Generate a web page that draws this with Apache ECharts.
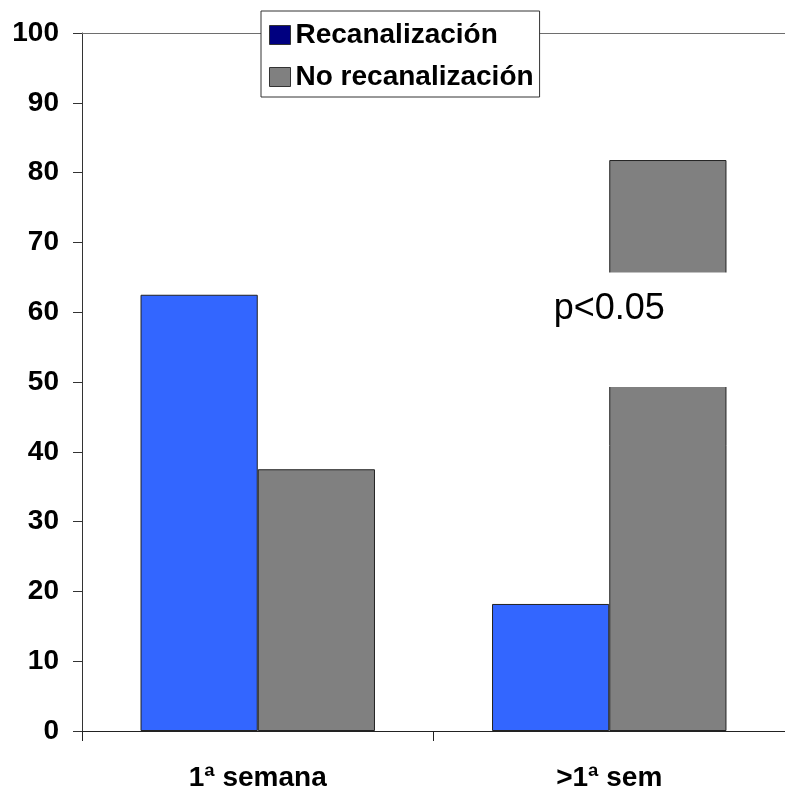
<!DOCTYPE html>
<html>
<head>
<meta charset="utf-8">
<script src="https://cdn.jsdelivr.net/npm/echarts@6/dist/echarts.min.js"></script>
<style>
  html, body { margin: 0; padding: 0; background: #ffffff; }
  #chart { width: 785px; height: 794px; }
</style>
</head>
<body>
<div id="chart"></div>
<script>
// Categories and series values (percent)
const categories = ['1ª semana', '>1ª sem'];
const recanalizacion = [62.5, 18.2];
const noRecanalizacion = [37.5, 81.8];
const seriesNames = ['Recanalización', 'No recanalización'];

// Significance note drawn over the second group, and the value band it blanks out
const noteText = 'p<0.05';
const noteCategory = '>1ª sem';
const noteBand = [49.3, 65.7];
const noteValue = 60.5;

const FONT = "'Liberation Sans', Arial, Helvetica, sans-serif";

const chart = echarts.init(document.getElementById('chart'), null, { renderer: 'canvas' });

chart.setOption({
  animation: false,
  backgroundColor: '#ffffff',
  grid: { left: 82, right: -2, top: 33, bottom: 63 },
  legend: {
    orient: 'vertical',
    left: 261, top: 11,
    padding: [9, 6, 5, 8],
    itemGap: 12,
    itemWidth: 21, itemHeight: 19,
    backgroundColor: '#ffffff',
    borderColor: '#333333', borderWidth: 1,
    icon: 'rect',
    textStyle: { fontFamily: FONT, fontSize: 28, fontWeight: 'bold', color: '#000000', lineHeight: 30 },
    data: [
      { name: seriesNames[0], itemStyle: { color: '#000080', borderColor: '#333333', borderWidth: 1 } },
      { name: seriesNames[1], itemStyle: { color: '#808080', borderColor: '#333333', borderWidth: 1 } }
    ],
    z: 10
  },
  xAxis: [
    {
      type: 'category',
      data: categories,
      axisLine: { lineStyle: { color: '#222222', width: 1 } },
      axisTick: { show: true, length: 10, lineStyle: { color: '#222222' } },
      axisLabel: { margin: 33, fontFamily: FONT, fontSize: 28, fontWeight: 'bold', color: '#000000' }
    },
    {
      // top frame line of the plot area
      type: 'category',
      position: 'top',
      data: categories,
      axisLine: { show: true, lineStyle: { color: '#6e6e6e', width: 1 } },
      axisTick: { show: false },
      axisLabel: { show: false }
    }
  ],
  yAxis: {
    type: 'value',
    min: 0, max: 100, interval: 10,
    axisLine: { show: true, lineStyle: { color: '#333333', width: 1 } },
    axisTick: { show: true, length: 9, lineStyle: { color: '#333333' } },
    splitLine: { show: false },
    axisLabel: { margin: 23, fontFamily: FONT, fontSize: 28, fontWeight: 'bold', color: '#000000' }
  },
  series: [
    {
      name: seriesNames[0],
      type: 'bar',
      data: recanalizacion,
      barGap: '0%',
      barCategoryGap: '33.3%',
      itemStyle: { color: '#3366ff', borderColor: '#222222', borderWidth: 1 }
    },
    {
      name: seriesNames[1],
      type: 'bar',
      data: noRecanalizacion,
      barGap: '0%',
      barCategoryGap: '33.3%',
      itemStyle: { color: '#808080', borderColor: '#222222', borderWidth: 1 }
    }
  ]
});

// White note box with the significance text, placed through the axis scales
const bandTop = chart.convertToPixel({ xAxisIndex: 0, yAxisIndex: 0 }, [noteCategory, noteBand[1]]);
const bandBottom = chart.convertToPixel({ xAxisIndex: 0, yAxisIndex: 0 }, [noteCategory, noteBand[0]]);
const textPos = chart.convertToPixel({ xAxisIndex: 0, yAxisIndex: 0 }, [noteCategory, noteValue]);

chart.setOption({
  graphic: [
    {
      type: 'rect',
      z: 50,
      shape: {
        x: bandTop[0] - 62,
        y: bandTop[1],
        width: 200,
        height: bandBottom[1] - bandTop[1]
      },
      style: { fill: '#ffffff', stroke: null }
    },
    {
      type: 'text',
      z: 51,
      x: textPos[0],
      y: textPos[1],
      style: {
        text: noteText,
        fontFamily: FONT,
        fontSize: 36,
        fill: '#000000',
        align: 'center',
        verticalAlign: 'middle'
      }
    }
  ]
});
</script>
</body>
</html>
